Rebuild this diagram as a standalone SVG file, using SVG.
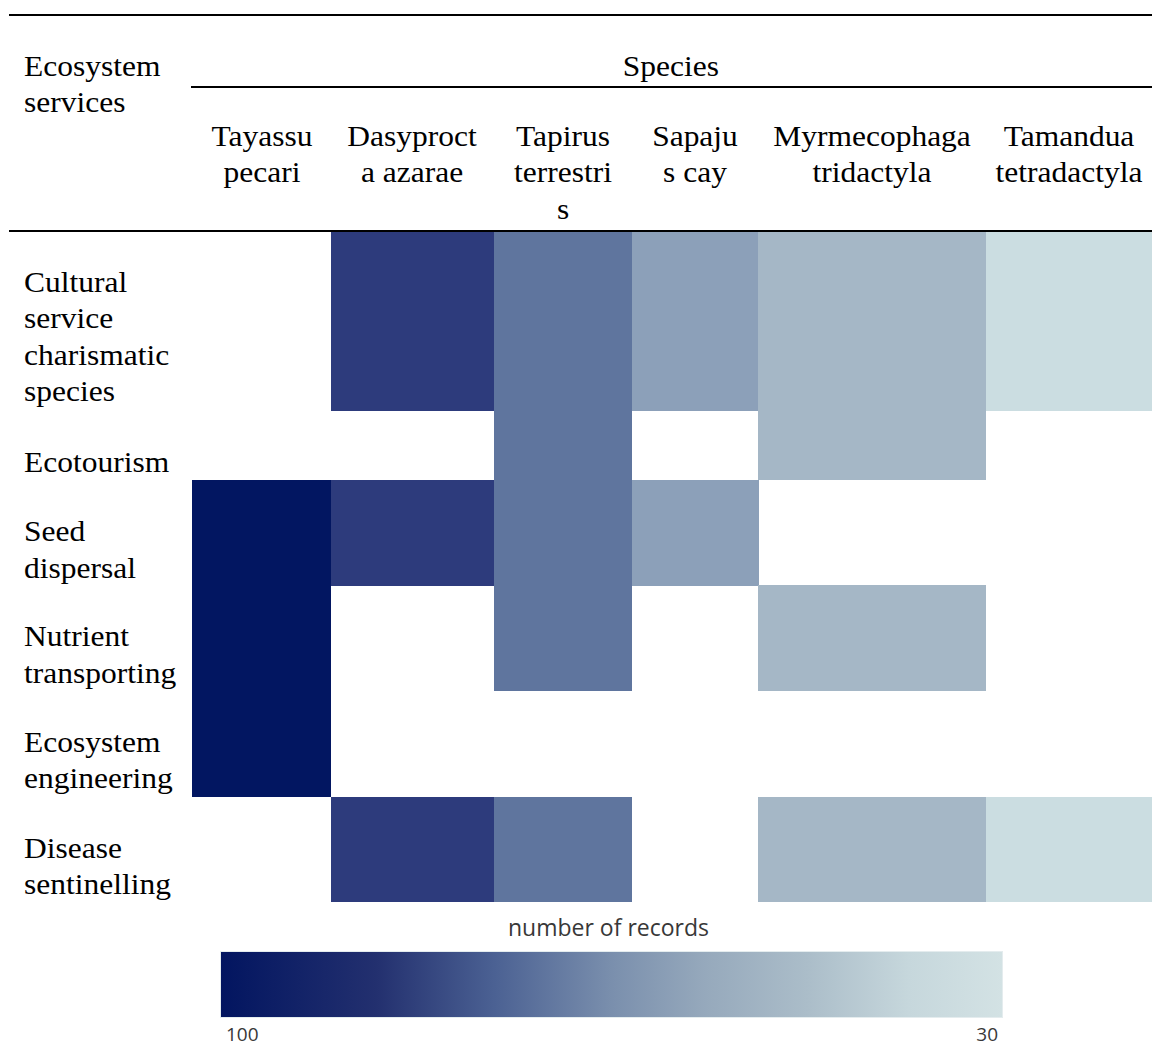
<svg xmlns="http://www.w3.org/2000/svg" width="1152" height="1047" viewBox="0 0 1152 1047">
<defs>
<style>
.t{font-family:"Liberation Serif","Times New Roman",serif;font-size:30px;fill:#000}
.c{text-anchor:middle}
.rule{stroke:#000;stroke-width:2;fill:none}
.v1{fill:#021661}
.v2{fill:#2d3b7c}
.v3{fill:#5f759e}
.v4{fill:#8ca0b9}
.v5{fill:#a5b7c6}
.v6{fill:#cbdde1}
.s{font-family:"Open Sans","DejaVu Sans",sans-serif;fill:#383838}
</style>
<linearGradient id="grad" x1="0" y1="0" x2="1" y2="0">
<stop offset="0" stop-color="#021560"/>
<stop offset="0.2" stop-color="#23306f"/>
<stop offset="0.35" stop-color="#4b6193"/>
<stop offset="0.5" stop-color="#7a8fad"/>
<stop offset="0.62" stop-color="#96a9bc"/>
<stop offset="0.75" stop-color="#abbdc9"/>
<stop offset="0.88" stop-color="#c6d7dc"/>
<stop offset="1" stop-color="#d3e2e4"/>
</linearGradient>
</defs>
<rect width="1152" height="1047" fill="#fff"/>

<g id="rules">
<line class="rule" x1="9" y1="15" x2="1152" y2="15"/>
<line class="rule" x1="191" y1="87" x2="1152" y2="87"/>
<line class="rule" x1="9" y1="231" x2="1152" y2="231"/>
</g>

<g id="cells">
<rect class="v2" x="331" y="232" width="163" height="179"/>
<rect class="v3" x="494" y="232" width="138" height="459"/>
<rect class="v4" x="632" y="232" width="126" height="179"/>
<rect class="v5" x="758" y="232" width="228" height="248"/>
<rect class="v6" x="986" y="232" width="166" height="179"/>
<rect class="v1" x="192" y="480" width="139" height="317"/>
<rect class="v2" x="331" y="480" width="163" height="106"/>
<rect class="v4" x="632" y="480" width="127" height="106"/>
<rect class="v5" x="758" y="585" width="228" height="106"/>
<rect class="v2" x="331" y="797" width="163" height="105"/>
<rect class="v3" x="494" y="797" width="138" height="105"/>
<rect class="v5" x="758" y="797" width="228" height="105"/>
<rect class="v6" x="986" y="797" width="166" height="105"/>
</g>

<g id="header" transform="scale(1.05 1)">
<text class="t" x="22.9" y="76">Ecosystem</text>
<text class="t" x="22.9" y="112">services</text>
<text class="t c" x="639" y="76">Species</text>
<text class="t c" x="249.5" y="146">Tayassu</text>
<text class="t c" x="249.5" y="182">pecari</text>
<text class="t c" x="392.4" y="146">Dasyproct</text>
<text class="t c" x="392.4" y="182">a azarae</text>
<text class="t c" x="536.2" y="146">Tapirus</text>
<text class="t c" x="536.2" y="182">terrestri</text>
<text class="t c" x="536.2" y="219">s</text>
<text class="t c" x="661.9" y="146">Sapaju</text>
<text class="t c" x="661.9" y="182">s cay</text>
<text class="t c" x="830.5" y="146">Myrmecophaga</text>
<text class="t c" x="830.5" y="182">tridactyla</text>
<text class="t c" x="1018.1" y="146">Tamandua</text>
<text class="t c" x="1018.1" y="182">tetradactyla</text>
</g>

<g id="row-labels" transform="scale(1.05 1)">
<text class="t" x="22.9" y="292">Cultural</text>
<text class="t" x="22.9" y="328">service</text>
<text class="t" x="22.9" y="365">charismatic</text>
<text class="t" x="22.9" y="401">species</text>
<text class="t" x="22.9" y="472">Ecotourism</text>
<text class="t" x="22.9" y="541">Seed</text>
<text class="t" x="22.9" y="578">dispersal</text>
<text class="t" x="22.9" y="646">Nutrient</text>
<text class="t" x="22.9" y="683">transporting</text>
<text class="t" x="22.9" y="752">Ecosystem</text>
<text class="t" x="22.9" y="788">engineering</text>
<text class="t" x="22.9" y="858">Disease</text>
<text class="t" x="22.9" y="894">sentinelling</text>
</g>

<g id="legend">
<text class="s" x="608.5" y="936" font-size="23" text-anchor="middle">number of records</text>
<rect x="220.5" y="951.5" width="782" height="66" fill="url(#grad)" stroke="#e4ecee" stroke-width="1"/>
<text class="s" x="226" y="1041" font-size="19">100</text>
<text class="s" x="998" y="1041" font-size="19" text-anchor="end">30</text>
</g>
</svg>
